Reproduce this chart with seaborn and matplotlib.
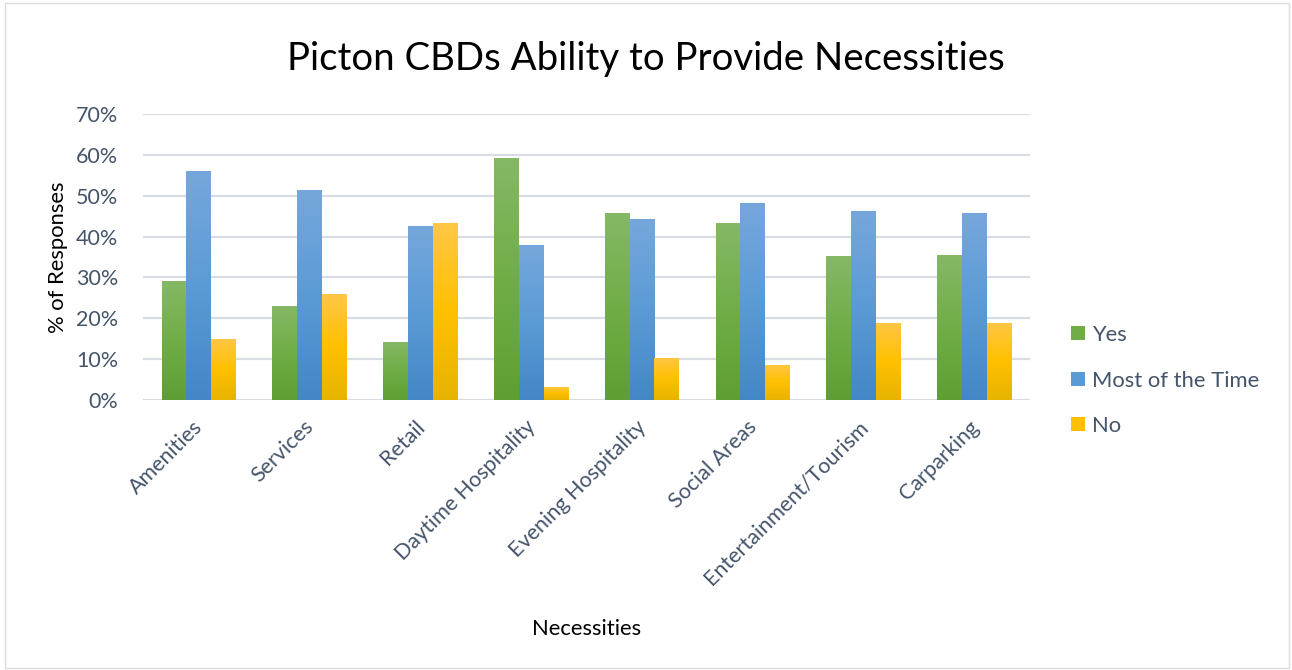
import numpy as np
import pandas as pd
import matplotlib
matplotlib.use("Agg")
import matplotlib.pyplot as plt
import matplotlib.colors as mcolors
import matplotlib.transforms as mtransforms
from matplotlib.patches import Rectangle, Patch
import seaborn as sns

categories = ["Amenities", "Services", "Retail", "Daytime Hospitality",
              "Evening Hospitality", "Social Areas", "Entertainment/Tourism",
              "Carparking"]
yes = [29.1, 23.0, 14.2, 59.2, 45.7, 43.3, 35.2, 35.4]
most_of_time = [56.0, 51.3, 42.5, 37.9, 44.2, 48.2, 46.2, 45.7]
no = [14.9, 25.9, 43.3, 3.2, 10.3, 8.6, 18.9, 18.9]
series = ["Yes", "Most of the Time", "No"]
y_ticks = [0, 10, 20, 30, 40, 50, 60, 70]

# top / middle / bottom gradient stops per series
gradients = {
    "Yes": ["#86b865", "#70ad47", "#5f9e34"],
    "Most of the Time": ["#76a7dc", "#5b9bd5", "#4387c6"],
    "No": ["#ffc746", "#ffc000", "#e6b400"],
}

df = pd.DataFrame({
    "Necessity": categories * 3,
    "Response": sum([[s] * len(categories) for s in series], []),
    "Pct": yes + most_of_time + no,
})

sns.set_theme(style="white")
plt.rcParams["font.family"] = ["Lato", "DejaVu Sans"]
text_col = "#44546a"

fig = plt.figure(figsize=(12.92, 6.70), dpi=100)
ax = fig.add_axes([0.111, 0.403, 0.686, 0.427])

sns.barplot(data=df, x="Necessity", y="Pct", hue="Response",
            hue_order=series, order=categories,
            palette=[gradients[s][1] for s in series],
            width=0.67, gap=0, saturation=1, ax=ax, legend=False,
            edgecolor="none", linewidth=0, zorder=3)

ax.set_ylim(0, 70)
ax.set_xlim(-0.5, len(categories) - 0.5)

# vertical gradient fill for each bar, clipped to the bar outline
for container, s in zip(ax.containers, series):
    cmap = mcolors.LinearSegmentedColormap.from_list(s, gradients[s][::-1])
    grad = np.linspace(0, 1, 256).reshape(-1, 1)
    for bar in container:
        x0, w = bar.get_x(), bar.get_width()
        h = bar.get_height()
        im = ax.imshow(grad, cmap=cmap, origin="lower", aspect="auto",
                       extent=[x0, x0 + w, 0, h], zorder=4,
                       interpolation="bilinear")
        im.set_clip_path(bar)
        bar.set_alpha(0)

ax.set_yticks(y_ticks)
ax.set_yticklabels([f"{v}%" for v in y_ticks])
ax.yaxis.grid(True, color="#d9dde3", linewidth=1.6, zorder=0)
ax.set_axisbelow(True)
for sp in ax.spines.values():
    sp.set_visible(False)
ax.tick_params(axis="both", length=0, colors=text_col, labelsize=15.5)
ax.tick_params(axis="y", pad=18)
ax.tick_params(axis="x", pad=12)
shift = mtransforms.ScaledTranslation(-6 / 100, 0, fig.dpi_scale_trans)
for lbl in ax.get_xticklabels():
    lbl.set_rotation(45)
    lbl.set_ha("right")
    lbl.set_rotation_mode("anchor")
    lbl.set_transform(lbl.get_transform() + shift)

ax.set_xlabel("Necessities", fontsize=15.8, color="black", labelpad=22)
ax.set_ylabel("% of Responses", fontsize=15.8, color="black", labelpad=6)
fig.text(0.5, 0.912, "Picton CBDs Ability to Provide Necessities",
         ha="center", va="center", fontsize=27.6, color="black")

handles = [Patch(facecolor=gradients[s][1], edgecolor="none") for s in series]
fig.legend(handles, series, loc="center left", bbox_to_anchor=(0.814, 0.432),
           frameon=False, fontsize=15.8, labelcolor=text_col,
           handlelength=0.6, handleheight=0.6, handletextpad=0.35,
           labelspacing=1.16)

fig.patches.append(Rectangle((0.004, 0.003), 0.994, 0.992,
                             transform=fig.transFigure, fill=False,
                             edgecolor="#dcdcdc", linewidth=1))

fig.savefig("out.png", dpi=100, facecolor="white")
